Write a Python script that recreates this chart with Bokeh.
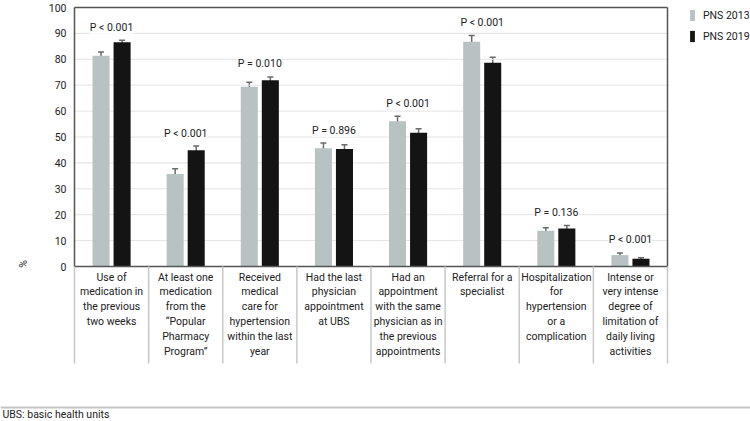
import math
from bokeh.plotting import figure
from bokeh.models import (ColumnDataSource, Range1d, FixedTicker, Whisker, TeeHead,
                          LabelSet, Legend, LegendItem)
from bokeh.core.properties import value
from bokeh.embed import file_html
from bokeh.resources import INLINE

# ---------------- data ----------------
categories = [
    "Use of\nmedication in\nthe previous\ntwo weeks",
    "At least one\nmedication\nfrom the\n\u201cPopular\nPharmacy\nProgram\u201d",
    "Received\nmedical\ncare for\nhypertension\nwithin the last\nyear",
    "Had the last\nphysician\nappointment\nat UBS",
    "Had an\nappointment\nwith the same\nphysician as in\nthe previous\nappointments",
    "Referral for a\nspecialist",
    "Hospitalization\nfor\nhypertension\nor a\ncomplication",
    "Intense or\nvery intense\ndegree of\nlimitation of\ndaily living\nactivities",
]
pns2013 = [81.4, 35.7, 69.4, 45.7, 56.1, 86.8, 13.8, 4.4]
pns2013_err = [1.4, 2.0, 1.7, 2.0, 1.9, 2.4, 1.2, 0.85]
pns2019 = [86.6, 44.9, 71.9, 45.4, 51.6, 78.7, 14.7, 3.0]
pns2019_err = [0.8, 1.6, 1.3, 1.6, 1.6, 2.1, 1.1, 0.4]
p_values = ["P < 0.001", "P < 0.001", "P = 0.010", "P = 0.896",
            "P < 0.001", "P < 0.001", "P = 0.136", "P < 0.001"]
y_ticks = list(range(0, 101, 10))
series_names = ["PNS 2013", "PNS 2019"]
footnote = "UBS: basic health units"
y_label = "%"

# ---------------- layout (pixels) ----------------
W, H = 750, 421
X0_PX = 74           # canvas x of the value area's left edge
PX_X = (667 - 74) / 8  # pixels per category
Y0_PX = 266          # canvas y of the zero line
PX_Y = (266 - 7) / 100  # pixels per percentage point
SEP_BOTTOM_PX = 363
FOOT_LINE_PX = 407
FOOT_TEXT_PX = 414


def y_of(py):
    return (Y0_PX - py) / PX_Y


def x_of(px):
    return (px - X0_PX) / PX_X


FONT = "Roboto"
FS = "10.5px"
GRAY = "#b9c2c2"
BLACK = "#141414"
TXT = "#222222"
n = len(categories)
offset = 0.142
bar_w = 0.23

p = figure(width=W, height=H, output_backend="svg", toolbar_location=None,
           x_range=Range1d(x_of(0), x_of(W)), y_range=Range1d(y_of(H), y_of(0)),
           min_border=0, min_border_left=0, min_border_right=0,
           min_border_top=0, min_border_bottom=0,
           x_axis_location=None, title=None)
p.outline_line_color = None
p.background_fill_color = "white"
p.border_fill_color = "white"
p.xgrid.grid_line_color = None
p.ygrid.grid_line_color = None

# y axis fixed at the left edge of the value area
p.yaxis.fixed_location = 0
p.yaxis.ticker = FixedTicker(ticks=y_ticks)
p.yaxis.axis_line_color = None
p.yaxis.major_tick_line_color = None
p.yaxis.minor_tick_line_color = None
p.yaxis.major_tick_out = 0
p.yaxis.major_label_standoff = 8
p.yaxis.major_label_text_font = FONT
p.yaxis.major_label_text_font_size = FS
p.yaxis.major_label_text_color = TXT

# horizontal gridlines
p.segment(x0=[0] * (len(y_ticks) - 1), x1=[n] * (len(y_ticks) - 1),
          y0=y_ticks[1:], y1=y_ticks[1:], line_color="#e4e4e4", line_width=1)

centers = [i + 0.5 for i in range(n)]
src = ColumnDataSource(dict(
    x13=[c - offset for c in centers],
    x19=[c + offset for c in centers],
    v13=pns2013, v19=pns2019,
    lo13=[v - e for v, e in zip(pns2013, pns2013_err)],
    hi13=[v + e for v, e in zip(pns2013, pns2013_err)],
    lo19=[v - e for v, e in zip(pns2019, pns2019_err)],
    hi19=[v + e for v, e in zip(pns2019, pns2019_err)],
))

r13 = p.vbar(x="x13", top="v13", bottom=0, width=bar_w, source=src,
             fill_color=GRAY, line_color=None)
r19 = p.vbar(x="x19", top="v19", bottom=0, width=bar_w, source=src,
             fill_color=BLACK, line_color=None)

for lo, hi, base in [("lo13", "hi13", "x13"), ("lo19", "hi19", "x19")]:
    p.add_layout(Whisker(source=src, base=base, lower=lo, upper=hi,
                         line_color="#6a6a6a", line_width=1.5,
                         upper_head=TeeHead(size=6, line_color="#6a6a6a", line_width=1.5),
                         lower_head=TeeHead(size=6, line_color="#6a6a6a", line_width=1.5)))

# frame border of the value area and category separators below it
top = y_ticks[-1]
p.segment(x0=[0, 0, n, 0], y0=[top, 0, 0, 0], x1=[n, 0, n, n], y1=[top, top, top, 0],
          line_color="#555555", line_width=1.5)
p.segment(x0=list(range(n + 1)), y0=[0] * (n + 1), x1=list(range(n + 1)),
          y1=[y_of(SEP_BOTTOM_PX)] * (n + 1), line_color="#c8c8c8", line_width=1.5)

# category labels
lab_src = ColumnDataSource(dict(x=centers, y=[y_of(Y0_PX + 4)] * n, t=categories))
p.text(x="x", y="y", text="t", source=lab_src, text_align="center",
       text_baseline="top", text_font=value(FONT), text_font_size=FS,
       text_color=TXT, text_line_height=1.14)

# p-value labels
p_src = ColumnDataSource(dict(
    x=centers,
    y=[max(a, b) + 5 for a, b in zip(src.data["hi13"], src.data["hi19"])],
    t=p_values))
p.add_layout(LabelSet(x="x", y="y", text="t", source=p_src, text_align="center",
                      text_baseline="middle", text_font=value(FONT),
                      text_font_size=value(FS), text_color=value(TXT),
                      background_fill_color=value("white")))

# axis title "%"
p.text(x=[x_of(23)], y=[1], text=[y_label], angle=math.pi / 2, text_align="center",
       text_baseline="middle", text_font=value(FONT), text_font_size=FS,
       text_color=TXT)

# legend
legend = Legend(items=[LegendItem(label=series_names[0], renderers=[r13]),
                       LegendItem(label=series_names[1], renderers=[r19])],
                location=(689, H - 8 - 35), orientation="vertical",
                glyph_width=6, glyph_height=14, label_height=14, spacing=7,
                label_standoff=8, padding=0, margin=0,
                border_line_color=None, background_fill_alpha=0,
                label_text_font=FONT, label_text_font_size=FS,
                label_text_color=TXT)
p.add_layout(legend)

# footer rule and note
p.segment(x0=[x_of(0)], x1=[x_of(W)], y0=[y_of(FOOT_LINE_PX)], y1=[y_of(FOOT_LINE_PX)],
          line_color="#c4c4c4", line_width=2)
p.text(x=[x_of(2)], y=[y_of(FOOT_TEXT_PX)], text=[footnote], text_align="left",
       text_baseline="middle", text_font=value(FONT), text_font_size=FS,
       text_color=TXT)

open("out.html", "w").write(file_html(p, INLINE))
